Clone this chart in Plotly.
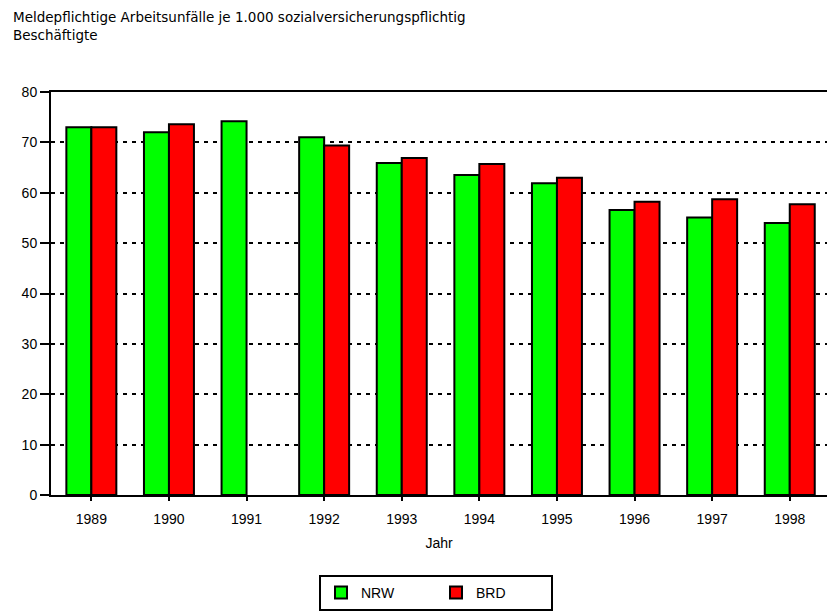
import plotly.graph_objects as go

years = ["1989", "1990", "1991", "1992", "1993", "1994", "1995", "1996", "1997", "1998"]
nrw = [73.0, 72.0, 74.2, 71.0, 65.9, 63.5, 61.9, 56.6, 55.1, 54.0]
brd = [73.0, 73.6, None, 69.4, 66.9, 65.7, 63.0, 58.2, 58.7, 57.7]
y_ticks = [0, 10, 20, 30, 40, 50, 60, 70, 80]
title_text = "Meldepflichtige Arbeitsunfälle je 1.000 sozialversicherungspflichtig<br>Beschäftigte"

font = "Liberation Sans, Arial, sans-serif"
tfont = "DejaVu Sans, sans-serif"

W, H = 827, 612
L, R, T, B = 51, 0, 92, 117
pw, ph = W - L - R, H - T - B

fig = go.Figure()
fig.add_trace(go.Bar(name="NRW", x=years, y=nrw,
                     marker=dict(color="#00ff00", line=dict(color="black", width=2))))
fig.add_trace(go.Bar(name="BRD", x=years, y=brd,
                     marker=dict(color="#ff0000", line=dict(color="black", width=2))))

fig.add_annotation(text=title_text, xref="paper", yref="paper",
                   x=(11 - L) / pw, y=(H - B - 7) / ph,
                   xanchor="left", yanchor="top", align="left", showarrow=False,
                   font=dict(family=tfont, size=13.5, color="black"))

fig.update_layout(
    width=W, height=H,
    margin=dict(l=L, r=R, t=T, b=B),
    paper_bgcolor="white", plot_bgcolor="white",
    barmode="group", bargap=0.356, bargroupgap=0,
    font=dict(family=font, size=14, color="black"),
    xaxis=dict(type="category", range=[-0.52, 9.48], showline=True, linecolor="black", linewidth=2,
               mirror=True, ticks="outside", ticklen=4, tickwidth=2, tickcolor="black",
               ticklabelstandoff=6,
               showgrid=False, title=dict(text="Jahr", standoff=12, font=dict(size=14)),
               tickfont=dict(size=14)),
    yaxis=dict(range=[0, 80], tickvals=y_ticks, showline=True, linecolor="black", linewidth=2,
               ticks="outside", ticklen=9, tickwidth=2, tickcolor="black",
               showgrid=True, gridcolor="black", gridwidth=2, griddash="4px,5px",
               zeroline=False, tickfont=dict(size=14)),
    legend=dict(orientation="h", x=(436 - L) / pw, xanchor="center", y=(H - B - 575) / ph, yanchor="top",
                bordercolor="black", borderwidth=2, bgcolor="white",
                entrywidth=70, entrywidthmode="pixels",
                font=dict(size=14), traceorder="normal"),
)

fig.write_html("out.html", config={"displayModeBar": False},
               post_script="document.body.style.margin='0';")
